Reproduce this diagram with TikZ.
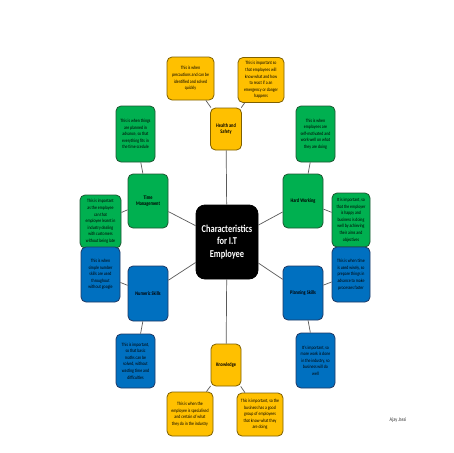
\documentclass[tikz,border=0pt]{standalone}
\usepackage{fontspec}
\setmainfont{Carlito}[FakeStretch=0.8]
\definecolor{yelF}{HTML}{FFC000}
\definecolor{yelD}{HTML}{7F6000}
\definecolor{grnF}{HTML}{00B050}
\definecolor{grnD}{HTML}{1E5631}
\definecolor{bluF}{HTML}{0070C0}
\definecolor{bluD}{HTML}{1F3864}
\definecolor{lineC}{HTML}{5A5A5A}
\tikzset{
  bx/.style={draw, rounded corners=5pt, line width=0.8pt, align=center, inner sep=1pt,
    font=\fontsize{4.9}{6.6}\selectfont, text=black},
  yel/.style={bx, fill=yelF, draw=yelD},
  grn/.style={bx, fill=grnF, draw=grnD},
  blu/.style={bx, fill=bluF, draw=bluD},
  mainlbl/.style={font=\fontsize{5.4}{6.8}\selectfont\bfseries},
  conn/.style={draw=lineC, line width=0.7pt},
}
\begin{document}
\begin{tikzpicture}[x=1pt,y=-1pt]
\useasboundingbox (0,0) rectangle (453,453);
\fill[white] (0,0) rectangle (453,453);
% centre
\node[bx, fill=black, draw=black, rounded corners=9pt, minimum width=62pt, minimum height=74pt,
  text=white, font=\fontsize{10.5}{12.6}\selectfont\bfseries] (c) at (227,242) {Characteristics\\for I.T\\Employee};
% main boxes
\node[yel, mainlbl, minimum width=31pt, minimum height=42pt] (hs) at (226,129) {Health and\\Safety};
\node[grn, mainlbl, minimum width=40pt, minimum height=54pt] (tm) at (148,201) {Time\\Management};
\node[grn, mainlbl, minimum width=40pt, minimum height=54pt] (hw) at (303,201) {Hard Working};
\node[blu, mainlbl, minimum width=40pt, minimum height=55pt] (ns) at (148,293.5) {Numeric Skills};
\node[blu, mainlbl, minimum width=40pt, minimum height=54pt] (ps) at (303,293) {Planning Skills};
\node[yel, mainlbl, minimum width=30pt, minimum height=42pt] (kn) at (226,365) {Knowledge};
% callouts
\node[yel, minimum width=47pt, minimum height=43pt] (hsl) at (190.5,78.5) {This is when\\precautions and can be\\identified and solved\\quickly};
\node[yel, minimum width=46pt, minimum height=45pt] (hsr) at (261,80) {This is important so\\that employees will\\know what and how\\to react if a an\\emergency or danger\\happens};
\node[grn, minimum width=39pt, minimum height=56pt] (tmu) at (135.5,134) {This is when things\\are planned in\\advance, so that\\everything fits in\\the time scedule};
\node[grn, minimum width=41pt, minimum height=53pt] (tml) at (100.5,221.5) {This is important\\as the employee\\can that\\employee learnt in\\industry dealing\\with customers\\without being late};
\node[grn, minimum width=39pt, minimum height=56pt] (hwu) at (315.5,134) {This is when\\employees are\\self-motivated and\\work well on what\\they are doing};
\node[grn, minimum width=38pt, minimum height=54pt] (hwr) at (351,220) {It is important, so\\that the employer\\is happy and\\business is doing\\well by achieving\\their aims and\\objectives};
\node[blu, minimum width=39pt, minimum height=55pt] (nsl) at (100.5,274.5) {This is when\\simple number\\skills are used\\throughout\\without google};
\node[blu, minimum width=39pt, minimum height=54pt] (nsd) at (135.5,361) {This is important,\\so that basic\\maths can be\\solved, without\\wasting time and\\difficulties};
\node[blu, minimum width=38pt, minimum height=55pt] (psr) at (351,274.5) {This is when time\\is used wisely, so\\prepare things in\\advance to make\\processes faster};
\node[blu, minimum width=39pt, minimum height=55pt] (psd) at (315.5,360.5) {It's important, so\\more work is done\\in the industry, so\\business will do\\well};
\node[yel, minimum width=46pt, minimum height=44pt] (knl) at (190,414) {This is when the\\employee is specialised\\and certain of what\\they do in the industry};
\node[yel, minimum width=46pt, minimum height=43pt] (knr) at (260,414.5) {This is important, so the\\business has a good\\group of employees\\that know what they\\are doing};
% connectors
\path[conn] (c) -- (hs);
\path[conn] (c) -- (tm);
\path[conn] (c) -- (hw);
\path[conn] (c) -- (ns);
\path[conn] (c) -- (ps);
\path[conn] (c) -- (kn);
\path[conn] (hs) -- (hsl);
\path[conn] (hs) -- (hsr);
\path[conn] (tm) -- (tmu);
\path[conn] (tm) -- (tml);
\path[conn] (hw) -- (hwu);
\path[conn] (hw) -- (hwr);
\path[conn] (ns) -- (nsl);
\path[conn] (ns) -- (nsd);
\path[conn] (ps) -- (psr);
\path[conn] (ps) -- (psd);
\path[conn] (kn) -- (knl);
\path[conn] (kn) -- (knr);
% author
\node[font=\fontsize{5.5}{6.6}\selectfont, text=black!80] (au) at (398,420) {Ajay Jassi};
\end{tikzpicture}
\end{document}
